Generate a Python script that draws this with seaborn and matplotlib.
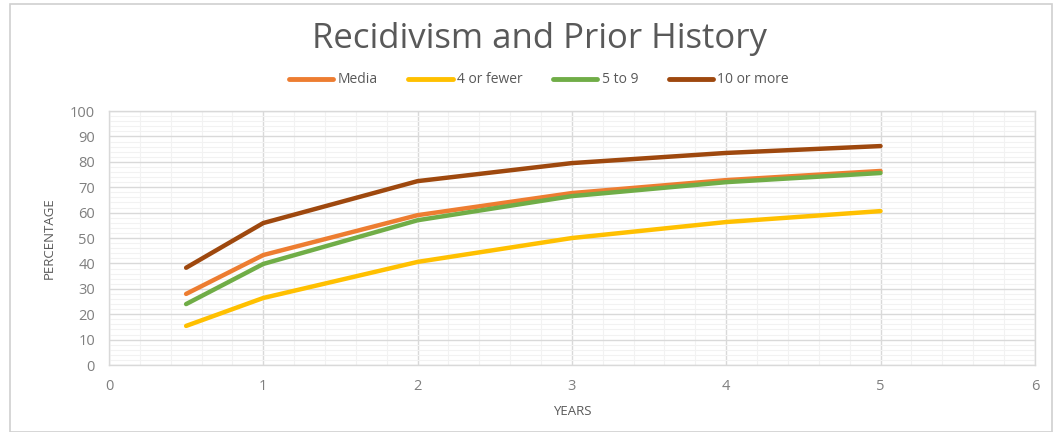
import pandas as pd
import matplotlib
matplotlib.use("Agg")
import matplotlib.pyplot as plt
from matplotlib.ticker import MultipleLocator
from matplotlib.patches import Rectangle
import seaborn as sns

# -------------------------------
# Data
# -------------------------------
years = [0.5, 1, 2, 3, 4, 5]
media = [28.0, 43.3, 59.0, 67.7, 72.8, 76.4]
four_or_fewer = [15.4, 26.4, 40.6, 50.0, 56.3, 60.6]
five_to_nine = [24.0, 39.8, 57.0, 66.5, 72.0, 75.6]
ten_or_more = [38.3, 55.9, 72.4, 79.5, 83.5, 86.2]

series_names = ["Media", "4 or fewer", "5 to 9", "10 or more"]
colors = ["#ED7D31", "#FFC000", "#70AD47", "#9E480E"]

df = pd.DataFrame({
    "YEARS": years * 4,
    "PERCENTAGE": media + four_or_fewer + five_to_nine + ten_or_more,
    "Group": [n for n in series_names for _ in years],
})

# -------------------------------
# Plot
# -------------------------------
sns.set_style("white")
plt.rcParams['font.family'] = ['Open Sans', 'DejaVu Sans']

fig = plt.figure(figsize=(10.63, 4.32), dpi=100)
ax = fig.add_axes([0.1025, 0.155, 0.871, 0.588])

sns.lineplot(data=df, x="YEARS", y="PERCENTAGE", hue="Group",
             hue_order=series_names, palette=colors, linewidth=3.2,
             ax=ax, legend=False)
for ln in ax.lines:
    ln.set_solid_capstyle("round")

ax.set_xlim(0, 6)
ax.set_ylim(0, 100)
ax.xaxis.set_major_locator(MultipleLocator(1))
ax.xaxis.set_minor_locator(MultipleLocator(0.2))
ax.yaxis.set_major_locator(MultipleLocator(10))
ax.yaxis.set_minor_locator(MultipleLocator(2))
ax.grid(which="major", color="#D9D9D9", linewidth=1.0)
ax.grid(which="minor", color="#F2F2F2", linewidth=0.8)
ax.set_axisbelow(True)
for s in ax.spines.values():
    s.set_color("#D9D9D9")
    s.set_linewidth(1.0)
ax.tick_params(which="both", length=0, labelsize=10.5, labelcolor="#7F7F7F", pad=10)

ax.set_xlabel("YEARS", fontsize=9.5, color="#595959", labelpad=8)
ax.set_ylabel("PERCENTAGE", fontsize=9.5, color="#595959", labelpad=10)

fig.suptitle("Recidivism and Prior History", x=0.507, y=0.95,
             fontsize=25, color="#595959")

handles = [plt.Line2D([0], [0], color=c, linewidth=3.5) for c in colors]
fig.legend(handles, series_names, loc="center", bbox_to_anchor=(0.507, 0.815),
           ncol=4, frameon=False, fontsize=10, handlelength=3.2,
           handletextpad=0.3, columnspacing=2.2, labelcolor="#595959")

# outer chart border
fig.patches.append(Rectangle((0.009, 0.0), 0.981, 0.99, transform=fig.transFigure,
                             fill=False, edgecolor="#D0D0D0", linewidth=1.2))

fig.savefig("out.png", dpi=100)
